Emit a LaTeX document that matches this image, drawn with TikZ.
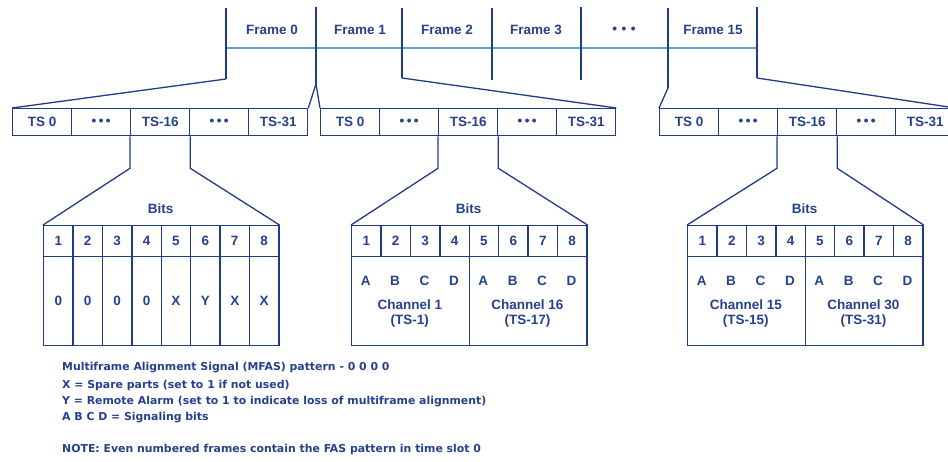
\documentclass[tikz,border=0pt]{standalone}
\usepackage{fontspec}
\setmainfont{Liberation Sans}
\newfontfamily\notefont{DejaVu Sans}
\definecolor{navy}{HTML}{1F3C8C}
\definecolor{ink}{HTML}{27408E}
\definecolor{railblue}{HTML}{6A9ECC}
\newcommand\tdots{\textbullet\hspace{2.4pt}\textbullet\hspace{2.4pt}\textbullet}
\newcommand\fdots{\textbullet\hspace{4.5pt}\textbullet\hspace{4.5pt}\textbullet}

\begin{document}
\begin{tikzpicture}[x=1pt,y=-1pt,
  wire/.style={draw=navy, line width=1.3pt},
  rail/.style={draw=railblue, line width=1.8pt},
  lbl/.style={text=ink, font=\bfseries\fontsize{13.5}{15}\selectfont, inner sep=0pt},
  tscell/.style={draw=navy, line width=1.3pt, minimum width=59pt, minimum height=27pt,
                 inner sep=0pt, anchor=north west, lbl},
  bitcell/.style={draw=navy, line width=1.3pt, minimum width=29.4pt, minimum height=31pt,
                  inner sep=0pt, anchor=north west, lbl},
  valcell/.style={bitcell, minimum height=89pt},
  halfcell/.style={draw=navy, line width=1.3pt, minimum width=117.6pt, minimum height=89pt,
                   inner sep=0pt, anchor=north west},
  legend/.style={text=ink, font=\notefont\bfseries\fontsize{10.9}{12}\selectfont,
                 anchor=west, inner sep=0pt}]
\useasboundingbox (0,0) rectangle (948,461);

% ---- multiframe: dividers, rail and frame labels ----
\coordinate (d1t) at (226,8);  \coordinate (d1b) at (226,79);
\coordinate (d2t) at (316,7);  \coordinate (d2b) at (316,84);
\coordinate (d3t) at (402,8);  \coordinate (d3b) at (402,78);
\coordinate (d4t) at (492,8);  \coordinate (d4b) at (492,80);
\coordinate (d5t) at (581,7);  \coordinate (d5b) at (581,80);
\coordinate (d6t) at (668,8);  \coordinate (d6b) at (668,88);
\coordinate (d7t) at (757,7);  \coordinate (d7b) at (757,78);
\coordinate (railL) at (226,48); \coordinate (railR) at (757,48);
\draw[rail] (railL) -- (railR);
\foreach \i in {1,...,7} \draw[wire] (d\i t) -- (d\i b);

\node[lbl] (fr0)  at (272,30) {Frame 0};
\node[lbl] (fr1)  at (360,30) {Frame 1};
\node[lbl] (fr2)  at (447,30) {Frame 2};
\node[lbl] (fr3)  at (536,30) {Frame 3};
\node[lbl] (frd)  at (624,30) {\fdots};
\node[lbl] (fr15) at (713,30) {Frame 15};

% ---- time-slot rows ----
\foreach \r/\x in {1/12, 2/320, 3/659} {
  \foreach \t [count=\k] in {TS 0,\tdots,TS-16,\tdots,TS-31}
    \node[tscell] (r\r-\k) at ({\x+(\k-1)*59},108) {\t};
}

% frames opened out into their time slots
\draw[wire] (d1b) -- (r1-1.north west);
\draw[wire] (d2b) -- (r1-5.north east);
\draw[wire] (d2b) -- (r2-1.north west);
\draw[wire] (d3b) -- (r2-5.north east);
\draw[wire] (d6b) -- (r3-1.north west);
\draw[wire] (d7b) -- (r3-5.north east);

% ---- TS-16 bit tables ----
\foreach \tb/\x in {1/43, 2/351, 3/687} {
  \foreach \k in {1,...,8}
    \node[bitcell] (t\tb-h\k) at ({\x+(\k-1)*29.4},225) {\k};
  \node[lbl] (bits\tb) at ({\x+117.6},209) {Bits};
}

% TS-16 opened out into its bits
\draw[wire] (r1-3.south west) -- ++(0,32) -- (t1-h1.north west);
\draw[wire] (r1-3.south east) -- ++(0,32) -- (t1-h8.north east);
\draw[wire] (r2-3.south west) -- ++(0,32) -- (t2-h1.north west);
\draw[wire] (r2-3.south east) -- ++(0,32) -- (t2-h8.north east);
\draw[wire] (r3-3.south west) -- ++(0,32) -- (t3-h1.north west);
\draw[wire] (r3-3.south east) -- ++(0,32) -- (t3-h8.north east);

% frame 0: MFAS pattern
\foreach \v [count=\k] in {0,0,0,0,X,Y,X,X}
  \node[valcell] (t1-v\k) at ({43+(\k-1)*29.4},256) {\v};

% frames 1 and 15: signalling bits for two channels
\foreach \tb/\x/\ca/\ta/\cb/\tbb in {2/351/1/1/16/17, 3/687/15/15/30/31} {
  \node[halfcell] (t\tb-lo) at (\x,256) {};
  \node[halfcell] (t\tb-hi) at ({\x+117.6},256) {};
  \foreach \s [count=\k] in {A,B,C,D,A,B,C,D}
    \node[lbl] (t\tb-s\k) at ({\x+(\k-0.5)*29.4},281) {\s};
  \node[lbl, align=center] (t\tb-chA) at ({\x+58.8},314) {Channel \ca\\(TS-\ta)};
  \node[lbl, align=center] (t\tb-chB) at ({\x+176.4},314) {Channel \cb\\(TS-\tbb)};
}

% ---- key ----
\node[legend] (k1) at (62,368) {Multiframe Alignment Signal (MFAS) pattern - 0 0 0 0};
\node[legend] (k2) at (62,385) {X = Spare parts (set to 1 if not used)};
\node[legend] (k3) at (62,402) {Y = Remote Alarm (set to 1 to indicate loss of multiframe alignment)};
\node[legend] (k4) at (62,418) {A B C D = Signaling bits};
\node[legend] (k5) at (62,449) {NOTE: Even numbered frames contain the FAS pattern in time slot 0};
\end{tikzpicture}
\end{document}
